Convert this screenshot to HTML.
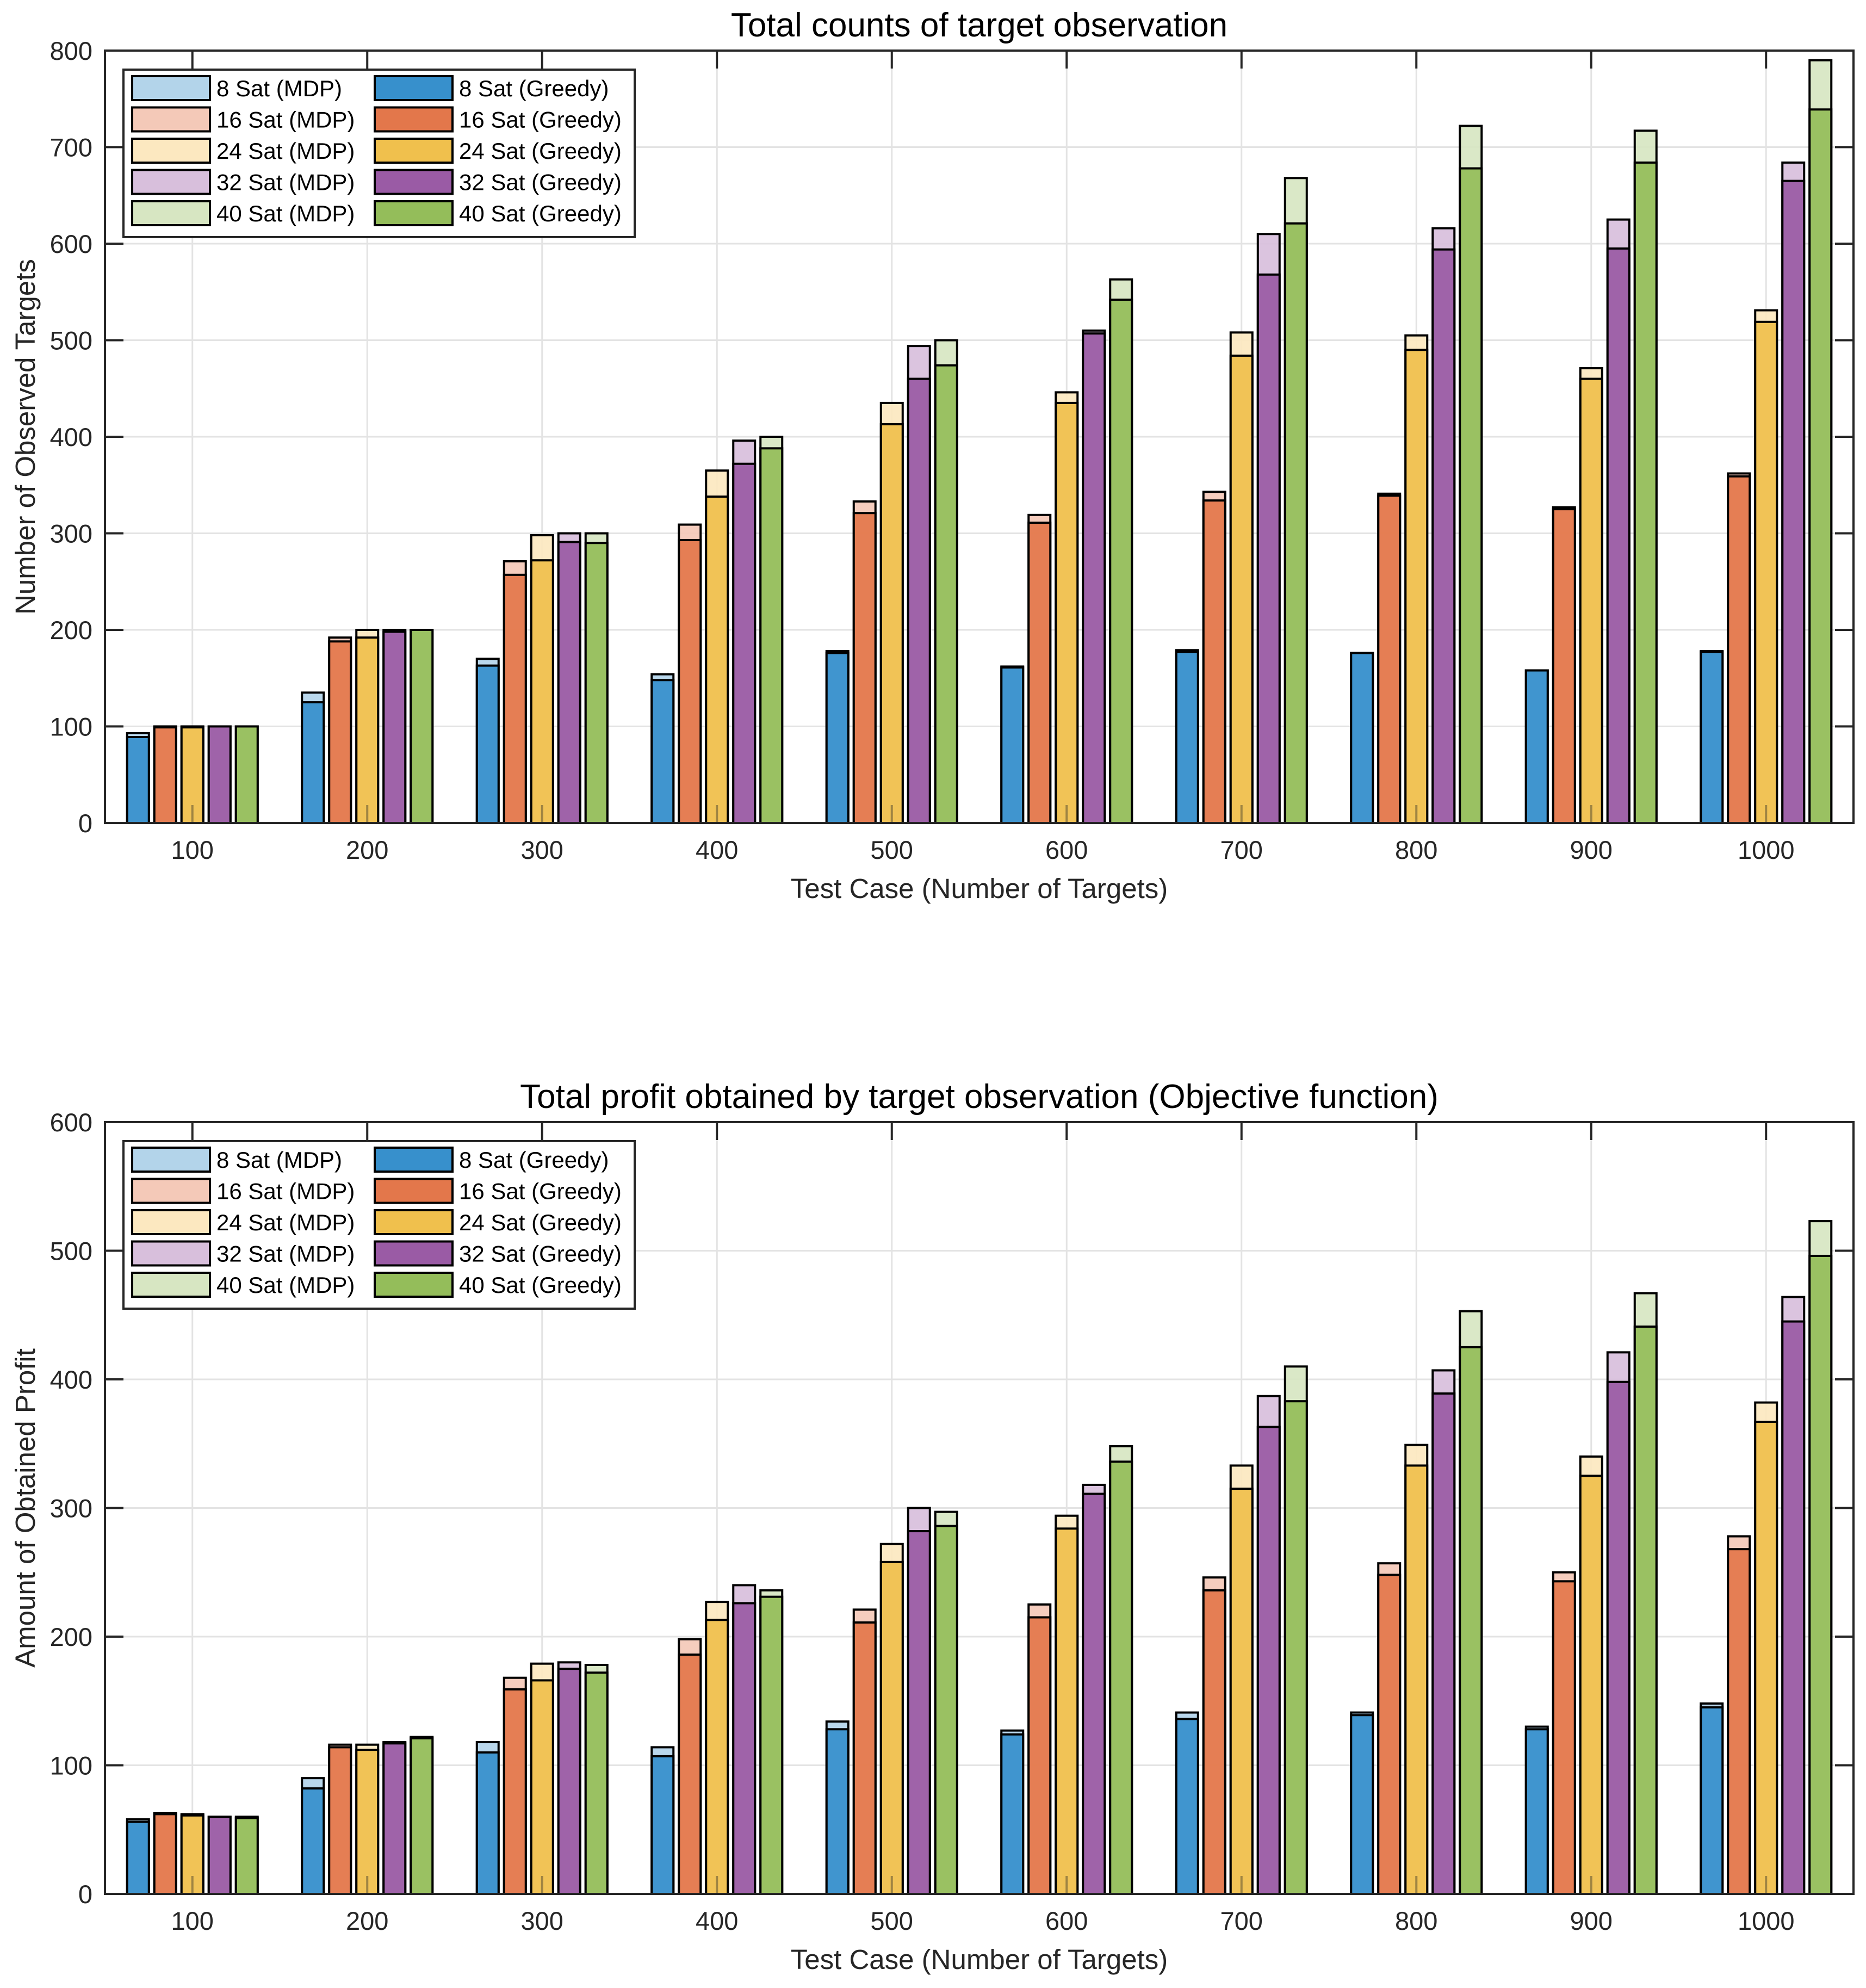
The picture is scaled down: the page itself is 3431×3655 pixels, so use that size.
<!DOCTYPE html>
<html><head><meta charset="utf-8"><style>
html,body{margin:0;padding:0;background:#fff;}
svg{display:block;font-family:"Liberation Sans",Arial,sans-serif;}
</style></head><body>
<svg id="fig" width="3431" height="3655" viewBox="0 0 3431 3655" xmlns="http://www.w3.org/2000/svg"></svg>
<script>
const categories = ['100','200','300','400','500','600','700','800','900','1000'];
const seriesNames = ['8 Sat','16 Sat','24 Sat','32 Sat','40 Sat'];
// Chart 1: counts
const countsMDP = [
 [93,135,170,154,178,162,179,176,158,178],
 [100,192,271,309,333,319,343,341,327,362],
 [100,200,298,365,435,446,508,505,471,531],
 [100,200,300,396,494,510,610,616,625,684],
 [100,200,300,400,500,563,668,722,717,790]];
const countsGreedy = [
 [89,125,163,148,176,161,177,176,158,177],
 [99,188,257,293,321,311,334,339,325,359],
 [99,192,272,338,413,435,484,490,460,519],
 [100,198,291,372,460,507,568,594,595,665],
 [100,200,290,388,474,542,621,678,684,739]];
const countsTicks = [0,100,200,300,400,500,600,700,800];
// Chart 2: profit
const profitMDP = [
 [58,90,118,114,134,127,141,141,130,148],
 [63,116,168,198,221,225,246,257,250,278],
 [62,116,179,227,272,294,333,349,340,382],
 [60,118,180,240,300,318,387,407,421,464],
 [60,122,178,236,297,348,410,453,467,523]];
const profitGreedy = [
 [56,82,110,107,128,124,136,139,128,145],
 [62,114,159,186,211,215,236,248,243,268],
 [61,112,166,213,258,284,315,333,325,367],
 [60,117,175,226,282,311,363,389,398,445],
 [59,121,172,231,286,336,383,425,441,496]];
const profitTicks = [0,100,200,300,400,500,600];

const lightCols = ['#b3d4ea','#f4c9b8','#fce8c0','#d8bfdc','#d7e6c2'];
const darkCols  = ['#3790cc','#e3774b','#f0c04d','#9a5ba5','#94bd5a'];
const NS='http://www.w3.org/2000/svg';
const svg=document.getElementById('fig');
function mk(tag,attrs,parent){const e=document.createElementNS(NS,tag);for(const k in attrs)e.setAttribute(k,attrs[k]);(parent||svg).appendChild(e);return e;}

function drawChart(cfg){
  const L=193,R=3408,T=cfg.top,B=cfg.bottom;
  const g=mk('g',{});
  
  
  const ymax=cfg.ticks[cfg.ticks.length-1];
  const y=v=>B-(v/ymax)*(B-T);
  const step=(R-L)/10;
  const x=i=>L+step*(i+0.5);
  cfg.ticks.forEach(t=>{ if(t>0&&t<ymax){const l=mk('line',{x1:L,x2:R,y1:y(t),y2:y(t),stroke:'#e3e3e3','stroke-width':3},g);}});
  categories.forEach((c,i)=>{const l=mk('line',{x1:x(i),x2:x(i),y1:T,y2:B,stroke:'#e3e3e3','stroke-width':3},g);});
  const pitch=50,bw=40;
  for(let s=0;s<5;s++){
    for(let i=0;i<categories.length;i++){
      const cx=x(i)+(s-2)*pitch;
      const m=mk('rect',{x:cx-bw/2,y:y(cfg.mdp[s][i]),width:bw,height:B-y(cfg.mdp[s][i]),fill:lightCols[s],'fill-opacity':0.92,stroke:'#000','stroke-width':4},g);
      
      
      const r=mk('rect',{x:cx-bw/2,y:y(cfg.greedy[s][i]),width:bw,height:B-y(cfg.greedy[s][i]),fill:darkCols[s],'fill-opacity':0.93,stroke:'#000','stroke-width':4},g);
      
      
    }
  }
  categories.forEach((c,i)=>{
    mk('line',{x1:x(i),x2:x(i),y1:B,y2:B-33,stroke:'#262626','stroke-width':4,'stroke-opacity':0.4},g);
    mk('line',{x1:x(i),x2:x(i),y1:T,y2:T+33,stroke:'#262626','stroke-width':4},g);
    const t=mk('text',{x:x(i),y:B+66,'font-size':47,fill:'#262626','text-anchor':'middle'},g);
    t.textContent=c;
    
    
  });
  cfg.ticks.forEach(v=>{
    mk('line',{x1:L,x2:L+34,y1:y(v),y2:y(v),stroke:'#262626','stroke-width':4},g);
    mk('line',{x1:R,x2:R-34,y1:y(v),y2:y(v),stroke:'#262626','stroke-width':4},g);
    const t=mk('text',{x:170,y:y(v)+17,'font-size':47,fill:'#262626','text-anchor':'end'},g);
    t.textContent=v;
    
    
  });
  const box=mk('rect',{x:L,y:T,width:R-L,height:B-T,fill:'none',stroke:'#262626','stroke-width':4},g);
  
  
  const ti=mk('text',{x:(L+R)/2,y:T-26,'font-size':62,fill:'#000','text-anchor':'middle'},g);
  ti.textContent=cfg.title;
  
  
  const xt=mk('text',{x:(L+R)/2,y:B+138,'font-size':51,fill:'#262626','text-anchor':'middle'},g);
  xt.textContent='Test Case (Number of Targets)';
  
  
  const yt=mk('text',{x:0,y:0,'font-size':51,fill:'#262626','text-anchor':'middle',transform:`translate(64,${(T+B)/2}) rotate(-90)`},g);
  yt.textContent=cfg.ylabel;
  
  
  const lg=mk('g',{},g);
  
  
  const LT=T+35;
  mk('rect',{x:227,y:LT,width:940,height:308,fill:'#fff',stroke:'#262626','stroke-width':4},lg);
  for(let s=0;s<5;s++){
    const cy=LT+34+s*57.5;
    [[243,398,lightCols[s],' (MDP)'],[689,844,darkCols[s],' (Greedy)']].forEach(([sx,tx,col,suf])=>{
      const e=mk('g',{},lg);
      
      
      mk('rect',{x:sx,y:cy-22,width:143,height:44,fill:col,stroke:'#000','stroke-width':4},e);
      const t=mk('text',{x:tx,y:cy+15,'font-size':42,fill:'#000'},e);
      t.textContent=seriesNames[s]+suf;
    });
  }
}
drawChart({name:'counts-chart',top:93,bottom:1513,ticks:countsTicks,mdp:countsMDP,greedy:countsGreedy,title:'Total counts of target observation',ylabel:'Number of Observed Targets'});
drawChart({name:'profit-chart',top:2063,bottom:3482,ticks:profitTicks,mdp:profitMDP,greedy:profitGreedy,title:'Total profit obtained by target observation (Objective function)',ylabel:'Amount of Obtained Profit'});
</script>
</body></html>
